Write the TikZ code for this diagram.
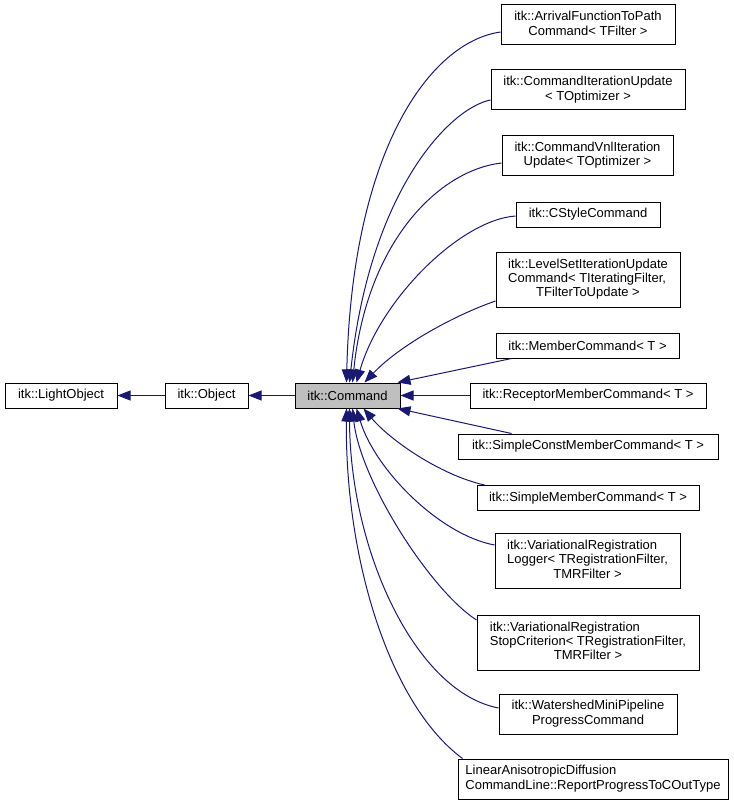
\documentclass[tikz,border=0pt]{standalone}
\usepackage{fontspec}
\setmainfont{Liberation Sans}
\usetikzlibrary{arrows.meta,calc}
\definecolor{edgeblue}{HTML}{191970}
\definecolor{cmdgray}{HTML}{BFBFBF}
\newcommand\doxlab[2]{\begin{tabular}{@{}l@{}}#1\\\multicolumn{1}{@{}c@{}}{#2}\end{tabular}}
\begin{document}
\begin{tikzpicture}[x=1pt,y=-1pt,
  box/.style={draw=black, line width=1pt, inner sep=0pt, font=\fontsize{13}{14.3}\selectfont},
  edge/.style={draw=edgeblue, line width=1pt, -{Triangle[length=13pt,width=10pt]}}]
\useasboundingbox (0,0) rectangle (733,805);
% nodes
\node[box, minimum width=112pt, minimum height=25pt] (light) at (61,395.5) {itk::LightObject};
\node[box, minimum width=83pt, minimum height=25pt] (obj) at (206.5,395.5) {itk::Object};
\node[box, fill=cmdgray, minimum width=105pt, minimum height=25pt] (cmd) at (347.5,395.5) {itk::Command};
\node[box, minimum width=174pt, minimum height=40pt] (arr) at (588,25) {\doxlab{itk::ArrivalFunctionToPath}{Command< TFilter >}};
\node[box, minimum width=194pt, minimum height=40pt] (ciu) at (588,90) {\doxlab{itk::CommandIterationUpdate}{< TOptimizer >}};
\node[box, minimum width=171pt, minimum height=40pt] (vnl) at (587.5,155.5) {\doxlab{itk::CommandVnlIteration}{Update< TOptimizer >}};
\node[box, minimum width=144pt, minimum height=25pt] (csty) at (588,214.5) {itk::CStyleCommand};
\node[box, minimum width=184pt, minimum height=55pt] (lvl) at (588,279.5) {\doxlab{itk::LevelSetIterationUpdate\\Command< TIteratingFilter,}{TFilterToUpdate >}};
\node[box, minimum width=183pt, minimum height=25pt] (mem) at (587.5,345.5) {itk::MemberCommand< T >};
\node[box, minimum width=236pt, minimum height=25pt] (rec) at (588,395.5) {itk::ReceptorMemberCommand< T >};
\node[box, minimum width=260pt, minimum height=25pt] (sconst) at (588,446.5) {itk::SimpleConstMemberCommand< T >};
\node[box, minimum width=222pt, minimum height=25pt] (smem) at (588,498) {itk::SimpleMemberCommand< T >};
\node[box, minimum width=185pt, minimum height=55pt] (vlog) at (587.5,561) {\doxlab{itk::VariationalRegistration\\Logger< TRegistrationFilter,}{TMRFilter >}};
\node[box, minimum width=222pt, minimum height=55pt] (stop) at (588,642.5) {\doxlab{itk::VariationalRegistration\\StopCriterion< TRegistrationFilter,}{TMRFilter >}};
\node[box, minimum width=178pt, minimum height=40pt] (wat) at (588,714) {\doxlab{itk::WatershedMiniPipeline}{ProgressCommand}};
\node[box, minimum width=270pt, minimum height=40pt] (lin) at (593,779) {\doxlab{LinearAnisotropicDiffusion}{CommandLine::ReportProgressToCOutType}};
% edges
\draw[edge] (obj.west) -- (light.east);
\draw[edge] (cmd.west) -- (obj.east);
\draw[edge] ($(arr.west)+(0,7)$) .. controls (430,42) and (352,150) .. ($(cmd.north west)+(52,0)$);
\draw[edge] ($(ciu.west)+(0,10)$) .. controls (450,108) and (370,190) .. ($(cmd.north west)+(55,0)$);
\draw[edge] ($(vnl.west)+(0,7.5)$) .. controls (440,170) and (367,240) .. ($(cmd.north west)+(58,0)$);
\draw[edge] ($(csty.west)+(0,1.5)$) .. controls (460,220) and (380,300) .. ($(cmd.north west)+(62,0)$);
\draw[edge] ($(lvl.west)+(0,21.5)$) .. controls (455,315) and (400,345) .. ($(cmd.north west)+(70,0)$);
\draw[edge] ($(mem.south west)+(16,0)$) -- ($(cmd.north west)+(103,0)$);
\draw[edge] (rec.west) -- (cmd.east);
\draw[edge] ($(sconst.north west)+(54,0)$) -- ($(cmd.south west)+(103,0)$);
\draw[edge] ($(smem.north west)+(8,0)$) .. controls (440,475) and (390,440) .. ($(cmd.south west)+(69,0)$);
\draw[edge] ($(vlog.west)+(0,-16)$) .. controls (440,535) and (375,470) .. ($(cmd.south west)+(62,0)$);
\draw[edge] ($(stop.west)+(0,-22.5)$) .. controls (430,590) and (360,480) .. ($(cmd.south west)+(58,0)$);
\draw[edge] ($(wat.west)+(0,-6)$) .. controls (415,692) and (350,550) .. ($(cmd.south west)+(55,0)$);
\draw[edge] ($(lin.north west)+(5,0)$) .. controls (390,705) and (345,560) .. ($(cmd.south west)+(52,0)$);
\end{tikzpicture}
\end{document}
